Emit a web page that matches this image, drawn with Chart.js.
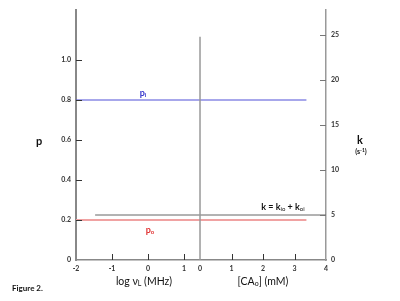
<!DOCTYPE html>
<html>
<head>
<meta charset="utf-8">
<script src="https://cdn.jsdelivr.net/npm/chart.js@4"></script>
<style>
  html,body{margin:0;padding:0;background:#fff;}
  #wrap{position:relative;width:400px;height:301px;}
</style>
</head>
<body>
<div id="wrap"><canvas id="fig" width="400" height="301"></canvas></div>
<script>
// tick values of the four axes
const pTicks = [0, 0.2, 0.4, 0.6, 0.8, 1.0];
const kTicks = [0, 5, 10, 15, 20, 25];
const logNuTicks = [-2, -1, 0, 1];
const caTicks = [0, 1, 2, 3, 4];

// p_i and p_o against log νL
const pLineX = [-2, 4.4];
const piVals = [0.8, 0.8];
const poVals = [0.2, 0.2];
// k against [CAo]
const kLineX = [-3.33, 4];
const kVals = [5, 5];
// divider at [CAo] = 0
const dividerX = [0, 0];
const dividerK = [0, 24.8];

const FONT = 'Lato, "DejaVu Sans", sans-serif';
const pts = (xs, ys) => xs.map((v, i) => ({x: v, y: ys[i]}));
const fixTicks = vals => s => { s.ticks = vals.map(v => ({value: v})); };
const setW = w => s => { s.width = w; };
const setH = h => s => { s.height = h; };

// text with sub/superscript pieces
function rich(ctx, x, y, parts, align){
  let w = 0;
  parts.forEach(p => { ctx.font = `${p.bold?'bold ':''}${p.size}px ${FONT}`; p.w = ctx.measureText(p.t).width; w += p.w; });
  let cx = align === 'center' ? x - w/2 : x;
  ctx.textAlign = 'left'; ctx.textBaseline = 'middle';
  parts.forEach(p => {
    ctx.font = `${p.bold?'bold ':''}${p.size}px ${FONT}`;
    ctx.fillStyle = p.color || '#111';
    ctx.fillText(p.t, cx, y + (p.dy||0));
    cx += p.w;
  });
}

const decor = {
  id: 'decor',
  afterDraw(chart){
    const {ctx, chartArea: a, scales: {x, x2, y, y2}} = chart;
    ctx.save();
    ctx.lineWidth = 1;
    ctx.strokeStyle = '#333';
    const seg = (x1, y1, xb, yb) => { ctx.beginPath(); ctx.moveTo(x1, y1); ctx.lineTo(xb, yb); ctx.stroke(); };
    pTicks.filter(v => v > 0).forEach(v => { const py = Math.round(y.getPixelForValue(v)) + 0.5; seg(a.left, py, a.left + 6, py); });
    ctx.strokeStyle = '#777';
    kTicks.filter(v => v > 0).forEach(v => { const py = Math.round(y2.getPixelForValue(v)) + 0.5; seg(a.right - 6, py, a.right, py); });
    ctx.strokeStyle = '#333';
    logNuTicks.filter(v => v > -2).forEach(v => { const px = Math.round(x.getPixelForValue(v)) + 0.5; seg(px, a.bottom, px, a.bottom - 6); });
    caTicks.filter(v => v > 0 && v < 4).forEach(v => { const px = Math.round(x2.getPixelForValue(v)) + 0.5; seg(px, a.bottom, px, a.bottom - 6); });

    // [CAo] tick labels share the row of the log νL labels
    ctx.font = `bold 7px ${FONT}`; ctx.fillStyle = '#333';
    ctx.textAlign = 'center'; ctx.textBaseline = 'middle';
    caTicks.forEach(v => ctx.fillText(String(v), x2.getPixelForValue(v), a.bottom + 9));

    // axis titles
    rich(ctx, 39, 141, [{t:'p', size:11, bold:true}], 'center');
    rich(ctx, 360, 140, [{t:'k', size:11, bold:true}], 'center');
    rich(ctx, 361, 152, [{t:'(s', size:7, bold:true}, {t:'-1', size:5, bold:true, dy:-2}, {t:')', size:7, bold:true}], 'center');
    rich(ctx, 144, 282, [{t:'log ν', size:10.5}, {t:'L', size:7, dy:2}, {t:' (MHz)', size:10.5}], 'center');
    rich(ctx, 263, 282, [{t:'[CA', size:10.5}, {t:'o', size:7, dy:2}, {t:'] (mM)', size:10.5}], 'center');
    rich(ctx, 12, 288, [{t:'Figure 2.', size:8, bold:true}], 'left');

    // line labels
    rich(ctx, 143, 93, [{t:'p', size:9, bold:true, color:'#3434cc'}, {t:'i', size:6, bold:true, dy:2, color:'#3434cc'}], 'center');
    rich(ctx, 150, 230, [{t:'p', size:9, bold:true, color:'#e03030'}, {t:'o', size:6, bold:true, dy:2, color:'#e03030'}], 'center');
    rich(ctx, 283, 207, [
      {t:'k = k', size:9, bold:true}, {t:'io', size:6, dy:2},
      {t:' + k', size:9, bold:true}, {t:'oi', size:6, dy:2}
    ], 'center');
    ctx.restore();
  }
};

const tickFont = {family: FONT, size: 7, weight: 'bold'};

new Chart(document.getElementById('fig'), {
  type: 'scatter',
  data: {
    datasets: [
      {data: pts(dividerX, dividerK), xAxisID: 'x2', yAxisID: 'y2', borderColor: '#999', borderWidth: 1.5, showLine: true, pointRadius: 0},
      {data: pts(pLineX, piVals), xAxisID: 'x', yAxisID: 'y', borderColor: '#5050d8', borderWidth: 1.2, showLine: true, pointRadius: 0},
      {data: pts(pLineX, poVals), xAxisID: 'x', yAxisID: 'y', borderColor: '#f0a2a2', borderWidth: 2, showLine: true, pointRadius: 0},
      {data: pts(kLineX, kVals), xAxisID: 'x2', yAxisID: 'y2', borderColor: '#666', borderWidth: 1, showLine: true, pointRadius: 0}
    ]
  },
  options: {
    responsive: false,
    animation: false,
    layout: {padding: {left: 46, right: 44, top: 10, bottom: 21}},
    plugins: {legend: {display: false}, tooltip: {enabled: false}},
    scales: {
      x: {
        type: 'linear', position: 'bottom', min: -2, max: 4.944,
        afterBuildTicks: fixTicks(logNuTicks), afterFit: setH(20),
        grid: {drawOnChartArea: false, drawTicks: false},
        border: {display: true, color: '#888', width: 1.5},
        ticks: {autoSkip: false, maxRotation: 0, padding: 5, color: '#333', font: tickFont}
      },
      x2: {
        type: 'linear', position: 'bottom', min: -3.937, max: 4,
        afterBuildTicks: fixTicks(caTicks), afterFit: setH(0),
        grid: {display: false, drawOnChartArea: false, drawTicks: false},
        border: {display: false},
        ticks: {display: false}
      },
      y: {
        type: 'linear', position: 'left', min: 0, max: 1.25,
        afterBuildTicks: fixTicks(pTicks), afterFit: setW(30),
        grid: {drawOnChartArea: false, drawTicks: false},
        border: {display: true, color: '#888', width: 2},
        ticks: {autoSkip: false, padding: 5, color: '#333', font: tickFont, callback: v => v === 0 ? '0' : v.toFixed(1)}
      },
      y2: {
        type: 'linear', position: 'right', min: 0, max: 27.78,
        afterBuildTicks: fixTicks(kTicks), afterFit: setW(30),
        grid: {drawOnChartArea: false, drawTicks: false},
        border: {display: true, color: '#999', width: 1.5},
        ticks: {autoSkip: false, padding: 5, color: '#333', font: tickFont}
      }
    }
  },
  plugins: [decor]
});
</script>
</body>
</html>
